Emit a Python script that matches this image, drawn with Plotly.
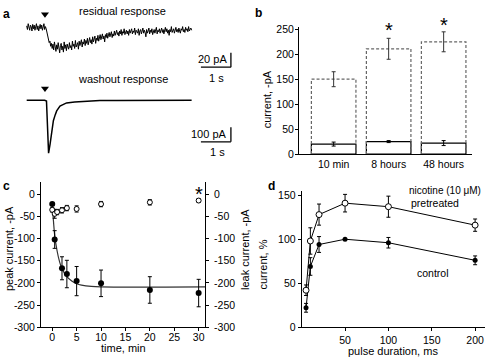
import plotly.graph_objects as go

W, H = 485, 363
FONT = "Liberation Sans, Arial, sans-serif"


def fx(px):
    return px / W


def fy(py):
    return 1 - py / H


# ---------------- panel a : example traces ----------------
res_dt = 0.025  # s between samples
res_current = [2, -3, 5, -1, -4, 3, 1, -5, 4, -2, 3, -4, 0, 5, -3, 2, -5, 1, 4, -2,
               3, -4, 2, 5, -3, 1, -2, -8, -13, -17, -21, -19, -26, -22, -29, -23, -31, -20, -27, -33,
               -24, -30, -21, -28, -35, -25, -22, -31, -26, -34, -20, -29, -24, -32, -23, -27, -30, -21, -28, -25,
               -31, -19, -26, -23, -29, -18, -27, -24, -21, -30, -19, -25, -22, -17, -27, -20, -23, -16, -25, -18,
               -22, -15, -24, -19, -14, -21, -17, -23, -13, -20, -16, -12, -22, -15, -18, -11, -19, -14, -10, -17,
               -13, -9, -16, -12, -20, -10, -14, -8, -15, -11, -7, -13, -10, -6, -14, -9, -12, -5, -11, -8,
               -4, -10, -7, -12, -5, -9, -3, -11, -6, -8, -2, -10, -7, -4, -9, -5, -11, -3, -8, -6,
               -2, -9, -5, -7, -1, -10, -4, -6, -8, -2, -11, -5, -3, -9, -6, -1, -8, -4, -7, -13,
               -3, -8, -5, -1, -9, -4, -7, -2, -10, -6, -3, -8, -5, 0, -9, -4, -6, -2, -8, -5,
               -1, -7, -3, -9, -5, 0, -6, -2, -8, -4, -11, -3, -6, 1, -7, -4, -2, -8, -5, 0,
               -6, -3, -7, -1, -5, -8, -2, -4, 1, -6, -3, -7, 0, -4, -2, -6, 1, -5, -3, -1, -4]
res_time = [i * res_dt for i in range(len(res_current))]

wash_time = [0, 0.3, 0.6, 0.66, 0.73, 0.78, 0.83, 0.89, 0.95, 1.0, 1.11, 1.33, 1.6, 1.89, 2.44, 3.0, 4.0, 5.0, 5.5]
wash_current = [0, 1, 0, -5, -362, -300, -229, -140, -100, -73, -40, -18, -11, -7, -2, -1, 0, 0, 0]

stim_time = 0.61
res_scale_pA, wash_scale_pA, scale_s = 20, 100, 1

# ---------------- panel b ----------------
b_categories = ["10 min", "8 hours", "48 hours"]
b_total = [150, 211, 225]
b_total_err = [15, 21, 20]
b_leak = [20, 25, 22]
b_leak_err = [4, 2, 5]
b_signif = [False, True, True]

# ---------------- panel c ----------------
c_peak_time = [0, 0.5, 2, 3, 5, 10, 20, 30]
c_peak = [-22, -102, -167, -180, -196, -201, -216, -223]
c_peak_err = [3, 20, 26, 31, 33, 30, 30, 31]
c_leak_time = [0, 0.5, 1, 2, 3, 5, 10, 20, 30]
c_leak = [-35, -44, -40, -36, -31, -33, -22, -18, -14]
c_leak_err = [5, 10, 6, 6, 6, 7, 6, 6, 4]
c_fit_time = [0, 0.25, 0.5, 1, 1.5, 2, 3, 4, 5, 6, 8, 10, 31.3]
c_fit = [-22, -60, -92, -128, -152, -168, -186, -196, -202, -205, -208, -209, -209]
c_yticks = [0, -50, -100, -150, -200, -250, -300]
c_xticks = [0, 5, 10, 15, 20, 25, 30]

# ---------------- panel d ----------------
d_duration = [5, 10, 20, 50, 100, 200]
d_control = [22, 69, 94, 100, 96, 76]
d_control_err = [5, 10, 9, 0, 6, 5]
d_nicotine = [42, 98, 128, 141, 137, 116]
d_nicotine_err = [6, 15, 12, 10, 12, 7]

fig = go.Figure()

# ---- panel a traces
fig.add_trace(go.Scatter(x=res_time, y=res_current, mode="lines",
                         line=dict(color="black", width=1), xaxis="x", yaxis="y"))
fig.add_trace(go.Scatter(x=[stim_time], y=[18], mode="markers",
                         marker=dict(symbol="triangle-down", size=7, color="black"),
                         xaxis="x", yaxis="y"))
fig.add_trace(go.Scatter(x=wash_time, y=wash_current, mode="lines",
                         line=dict(color="black", width=1.5), xaxis="x2", yaxis="y2"))
fig.add_trace(go.Scatter(x=[stim_time], y=[80], mode="markers",
                         marker=dict(symbol="triangle-down", size=7, color="black"),
                         xaxis="x2", yaxis="y2"))

# ---- panel b
bw = 0.81
xs, ys = [], []
for i, v in enumerate(b_total):
    xs += [i - bw / 2, i - bw / 2, i + bw / 2, i + bw / 2, None]
    ys += [0, v, v, 0, None]
fig.add_trace(go.Scatter(x=xs, y=ys, mode="lines",
                         line=dict(color="#666", width=1.2, dash="3px,2px"),
                         xaxis="x3", yaxis="y3"))
fig.add_trace(go.Scatter(x=list(range(3)), y=b_total, mode="markers",
                         marker=dict(size=1, color="rgba(0,0,0,0)"),
                         error_y=dict(type="data", array=b_total_err, color="#333", thickness=1, width=2),
                         xaxis="x3", yaxis="y3"))
fig.add_trace(go.Bar(x=list(range(3)), y=b_leak, width=bw,
                     marker=dict(color="white", line=dict(color="black", width=1.2)),
                     error_y=dict(type="data", array=b_leak_err, color="black", thickness=1, width=2),
                     xaxis="x3", yaxis="y3"))

# ---- panel c
fig.add_trace(go.Scatter(x=c_fit_time, y=c_fit, mode="lines", line=dict(color="#333", width=1.2, shape="spline"),
                         xaxis="x4", yaxis="y4", cliponaxis=False))
fig.add_trace(go.Scatter(x=c_peak_time, y=c_peak, mode="markers",
                         marker=dict(symbol="circle", size=6, color="black"),
                         error_y=dict(type="data", array=c_peak_err, color="black", thickness=1, width=2),
                         xaxis="x4", yaxis="y4"))
fig.add_trace(go.Scatter(x=c_leak_time, y=c_leak, mode="markers",
                         marker=dict(symbol="circle", size=5, color="white", line=dict(color="black", width=1)),
                         error_y=dict(type="data", array=c_leak_err, color="black", thickness=1, width=2),
                         xaxis="x4", yaxis="y4"))

# ---- panel d
fig.add_trace(go.Scatter(x=d_duration, y=d_control, mode="lines+markers",
                         line=dict(color="black", width=1),
                         marker=dict(symbol="circle", size=5, color="black"),
                         error_y=dict(type="data", array=d_control_err, color="black", thickness=1, width=2),
                         xaxis="x6", yaxis="y6", cliponaxis=False))
fig.add_trace(go.Scatter(x=d_duration, y=d_nicotine, mode="lines+markers",
                         line=dict(color="black", width=1),
                         marker=dict(symbol="circle", size=6, color="white", line=dict(color="black", width=1)),
                         error_y=dict(type="data", array=d_nicotine_err, color="black", thickness=1, width=2),
                         xaxis="x6", yaxis="y6", cliponaxis=False))

tickfont = dict(family=FONT, size=10.5, color="black")
axis_common = dict(showline=True, linecolor="black", linewidth=1, showgrid=False, zeroline=False,
                   ticks="outside", ticklen=3, tickcolor="black", tickfont=tickfont)
hidden = dict(visible=False, showgrid=False, zeroline=False, fixedrange=True)

layout = dict(
    width=W, height=H, margin=dict(l=0, r=0, t=0, b=0),
    paper_bgcolor="white", plot_bgcolor="white", showlegend=False,
    font=dict(family=FONT, size=11, color="black"),
    # panel a
    xaxis=dict(domain=[fx(0), fx(245)], range=[-0.89, 7.28], anchor="y", **hidden),
    yaxis=dict(domain=[fy(80), fy(0)], range=[-74.7, 32], anchor="x", **hidden),
    xaxis2=dict(domain=[fx(0), fx(245)], range=[-0.89, 7.28], anchor="y2", **hidden),
    yaxis2=dict(domain=[fy(170), fy(80)], range=[-473, 126.7], anchor="x2", **hidden),
    # panel b
    xaxis3=dict(domain=[fx(299), fx(471.7)], range=[-0.63, 2.51], anchor="y3",
                tickvals=list(range(3)), ticktext=b_categories,
                **{**axis_common, "ticks": ""}),
    yaxis3=dict(domain=[fy(154.3), fy(24)], range=[0, 254], anchor="x3",
                tickvals=[0, 50, 100, 150, 200, 250], ticklabelstandoff=-1, **axis_common),
    # panel c
    xaxis4=dict(domain=[fx(41), fx(205)], range=[-2.3, 31.3], anchor="y4",
                tickvals=c_xticks, ticklabelstandoff=-3, **axis_common),
    yaxis4=dict(domain=[fy(332.3), fy(183)], range=[-300, 28], anchor="x4",
                tickvals=c_yticks, ticktext=[str(v) for v in c_yticks], **axis_common),
    yaxis5=dict(domain=[fy(332.3), fy(183)], range=[-300, 28], anchor="x4", overlaying="y4", side="right",
                tickvals=c_yticks, ticktext=[str(v) for v in c_yticks], ticklabelstandoff=3, **axis_common),
    # panel d
    xaxis6=dict(domain=[fx(301.7), fx(485)], range=[0, 211.4], anchor="y6",
                tickvals=[50, 100, 150, 200], **axis_common),
    yaxis6=dict(domain=[fy(332.3), fy(192.7)], range=[0, 154.4], anchor="x6",
                tickvals=[0, 50, 100, 150], **axis_common),
)
fig.update_layout(**layout)
# dummy trace so right axis of c renders
fig.add_trace(go.Scatter(x=[None], y=[None], xaxis="x4", yaxis="y5"))

# scale bars (panel a)
sb_t = 6.81
res_sb_y = -54.7
wash_sb_y = -284.7
for xr, yr, y0, amp in [("x", "y", res_sb_y, res_scale_pA), ("x2", "y2", wash_sb_y, wash_scale_pA)]:
    fig.add_shape(type="line", xref=xr, yref=yr, x0=sb_t, x1=sb_t, y0=y0, y1=y0 + amp,
                  line=dict(color="black", width=1.3))
    fig.add_shape(type="line", xref=xr, yref=yr, x0=sb_t - scale_s, x1=sb_t, y0=y0, y1=y0,
                  line=dict(color="black", width=1.3))


def txt(text, px, py, size=11, xanchor="center", yanchor="middle", angle=0, bold=False):
    fig.add_annotation(text=("<b>%s</b>" % text) if bold else text, x=fx(px), y=fy(py),
                       xref="paper", yref="paper", showarrow=False, xanchor=xanchor, yanchor=yanchor,
                       textangle=angle, font=dict(family=FONT, size=size, color="black"))


# panel letters
txt("a", 1, 1, size=12, xanchor="left", yanchor="top", bold=True)
txt("b", 253, 0, size=12, xanchor="left", yanchor="top", bold=True)
txt("c", 1, 178, size=12, xanchor="left", yanchor="top", bold=True)
txt("d", 266, 178, size=12, xanchor="left", yanchor="top", bold=True)

# panel a texts
txt("residual response", 122, 7)
txt("washout response", 123, 77)
txt("%d pA" % res_scale_pA, 229, 57, xanchor="right")
txt("%d s" % scale_s, 216, 76)
txt("%d pA" % wash_scale_pA, 229, 134, xanchor="right")
txt("%d s" % scale_s, 217, 152)

# panel b
txt("current, -pA", 267, 98, angle=-90)
star_py = {1: 27, 2: 22}
for i, s in enumerate(b_signif):
    if s:
        fig.add_annotation(text="*", x=i, y=fy(star_py[i]), xref="x3", yref="paper",
                           showarrow=False, yanchor="middle",
                           font=dict(family=FONT, size=20, color="black"))

# panel c
txt("peak current, -pA", 9, 252, angle=-90)
txt("leak current, -pA", 245, 253, angle=-90)
txt("time, min", 124, 354)
fig.add_annotation(text="*", x=c_leak_time[-1], y=fy(195), xref="x4", yref="paper", showarrow=False,
                   yanchor="middle", font=dict(family=FONT, size=20, color="black"))

# panel d
txt("current, %", 263, 268, angle=-90)
txt("pulse duration, ms", 393, 357)
txt("nicotine (10 μM)", 483, 192, size=10, xanchor="right")
txt("pretreated", 435, 205, size=10.5)
txt("control", 433, 277, size=10.5)

fig.write_html("out.html", config={"displayModeBar": False},
               post_script="document.body.style.margin='0px';")
